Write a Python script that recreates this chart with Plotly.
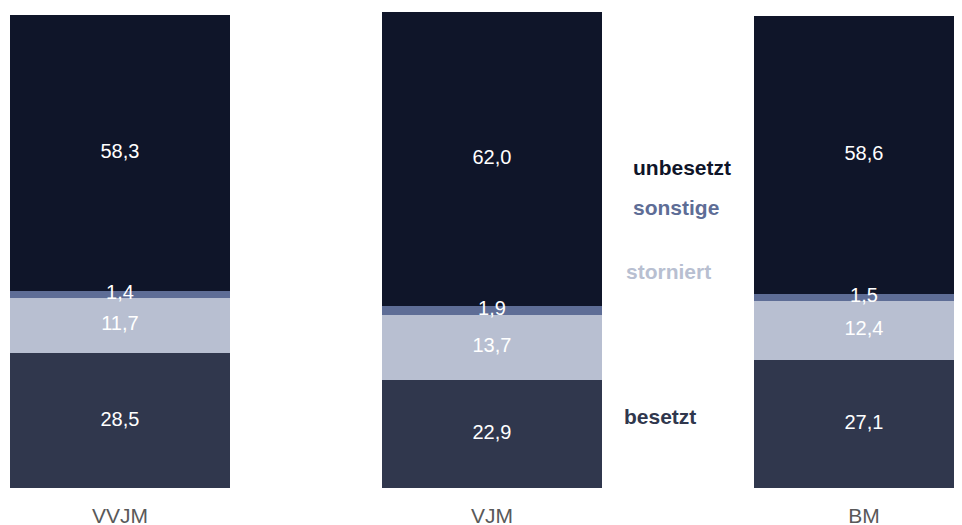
import plotly.graph_objects as go
import numpy as np

categories = ["VVJM", "VJM", "BM"]
besetzt = [28.5, 22.9, 27.1]
storniert = [11.7, 13.7, 12.4]
sonstige = [1.4, 1.9, 1.5]
unbesetzt = [58.3, 62.0, 58.6]

series = [
    ("besetzt", besetzt, "#30374d"),
    ("storniert", storniert, "#b8bfd1"),
    ("sonstige", sonstige, "#5e6d96"),
    ("unbesetzt", unbesetzt, "#0f1529"),
]

legend_text_colors = {"unbesetzt": "#0f1529", "sonstige": "#5e6d96",
                      "storniert": "#b8bfd1", "besetzt": "#30374d"}
legend_y = {"unbesetzt": 67.6, "sonstige": 59.3, "storniert": 45.8, "besetzt": 15.0}
legend_x = {"unbesetzt": 1.374, "sonstige": 1.374, "storniert": 1.355, "besetzt": 1.350}

FONT = "Liberation Sans, Arial, sans-serif"

fig = go.Figure()
base = np.zeros(len(categories))
for name, vals, col in series:
    vals = np.array(vals)
    fig.add_trace(go.Bar(x=categories, y=vals, name=name, marker=dict(color=col, line=dict(width=0)),
                         width=0.589, hoverinfo="skip"))
    mids = base + vals / 2
    fig.add_trace(go.Scatter(x=categories, y=mids, mode="text",
                             text=[f"{v:.1f}".replace(".", ",") for v in vals],
                             textfont=dict(color="white", size=20, family=FONT),
                             textposition="middle center", showlegend=False, hoverinfo="skip"))
    base = base + vals

for name in ["unbesetzt", "sonstige", "storniert", "besetzt"]:
    fig.add_annotation(x=legend_x[name], y=legend_y[name], xref="x", yref="y",
                       text=f"<b>{name}</b>", showarrow=False, xanchor="left", yanchor="middle",
                       font=dict(color=legend_text_colors[name], size=21, family=FONT))

fig.update_layout(
    barmode="stack", width=962, height=525,
    margin=dict(l=0, r=0, t=4, b=45),
    paper_bgcolor="white", plot_bgcolor="white", showlegend=False,
    xaxis=dict(range=[-0.301, 2.285], showgrid=False, zeroline=False, showline=False,
               ticks="outside", ticklen=9, tickcolor="rgba(0,0,0,0)",
               tickfont=dict(color="#595959", size=21, family=FONT)),
    yaxis=dict(range=[0, 100.5], visible=False, showgrid=False, zeroline=False),
)

fig.write_html("out.html")
